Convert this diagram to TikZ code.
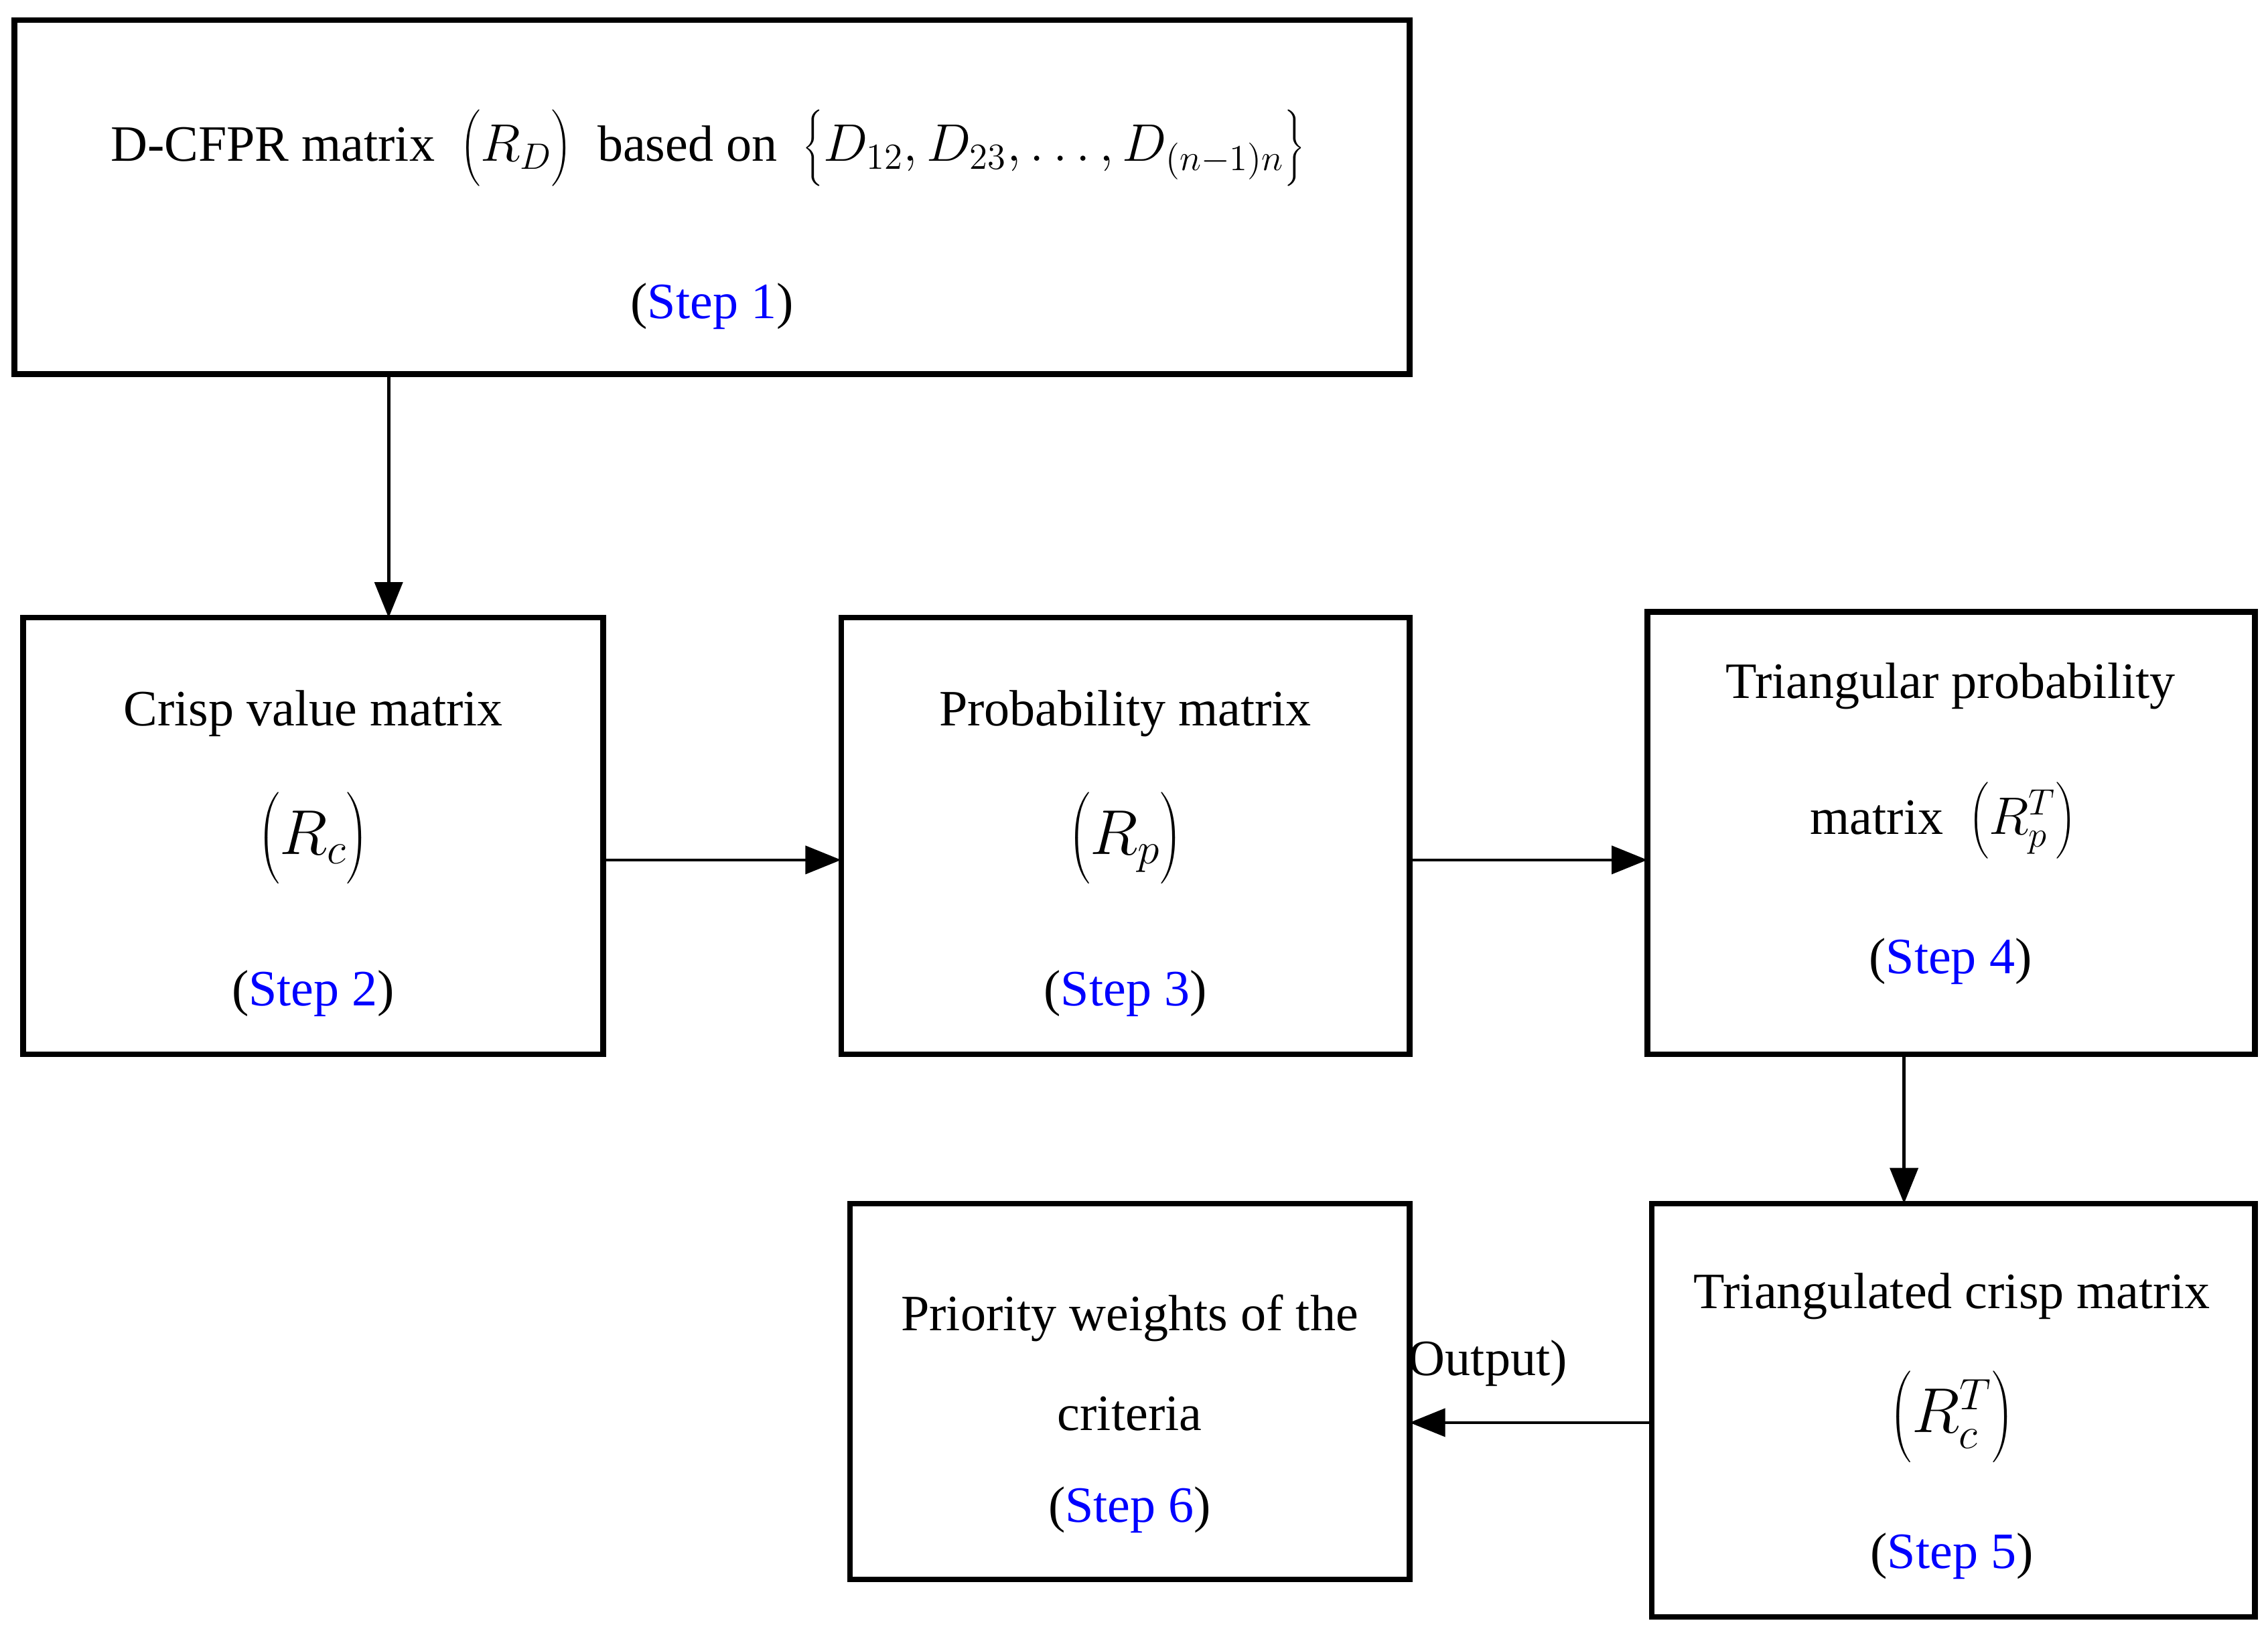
\documentclass[tikz,border=0pt]{standalone}
\usepackage{fontspec}
\setmainfont{Liberation Serif}
\usetikzlibrary{arrows.meta}
\definecolor{stepblue}{RGB}{0,0,255}
\newcommand{\bigp}[1]{\left(\rule[-0.45em]{0pt}{1.45em}#1\right)}
\begin{document}
\begin{tikzpicture}[x=0.02cm,y=-0.02cm,
  box/.style={draw,line width=2.2pt,fill=white},
  txt/.style={font=\fontsize{20}{24}\selectfont,inner sep=0pt},
  arr/.style={line width=1.2pt,-{Triangle[length=14pt,width=11pt]}}]
\useasboundingbox (0,0) rectangle (1564,1126);
\node[txt] (out) at (1026,940) {Output)};
\draw[box] (10,14) rectangle (972,258);
\draw[box] (16,426) rectangle (416,727);
\draw[box] (580,426) rectangle (972,727);
\draw[box] (1136,422) rectangle (1555,727);
\draw[box] (1139,830) rectangle (1555,1115);
\draw[box] (586,830) rectangle (972,1089);
\node[txt] (t1) at (488,102) {D-CFPR matrix\ \ $\bigp{R_D}$\ \ based on\ \ $\left\{\rule[-0.45em]{0pt}{1.45em}D_{12},D_{23},\ldots,D_{(n-1)n}\right\}$};
\node[txt] (s1) at (491,211) {(\textcolor{stepblue}{Step 1})};
\node[txt] (t2) at (216,492) {Crisp value matrix};
\node[txt] (m2) at (216,578) {\fontsize{24}{28}\selectfont$\bigp{R_c}$};
\node[txt] (s2) at (216,685) {(\textcolor{stepblue}{Step 2})};
\node[txt] (t3) at (776,492) {Probability matrix};
\node[txt] (m3) at (776,578) {\fontsize{24}{28}\selectfont$\bigp{R_p}$};
\node[txt] (s3) at (776,685) {(\textcolor{stepblue}{Step 3})};
\node[txt] (t4) at (1345,473) {Triangular probability};
\node[txt] (m4) at (1340,566) {matrix\ \ $\bigp{R_p^T}$};
\node[txt] (s4) at (1345,663) {(\textcolor{stepblue}{Step 4})};
\node[txt] (t5) at (1346,894) {Triangulated crisp matrix};
\node[txt] (m5) at (1346,977) {\fontsize{24}{28}\selectfont$\bigp{R_c^T}$};
\node[txt] (s5) at (1346,1073) {(\textcolor{stepblue}{Step 5})};
\node[txt] (t6) at (779,909) {Priority weights of the};
\node[txt] (u6) at (779,975) {criteria};
\node[txt] (s6) at (779,1041) {(\textcolor{stepblue}{Step 6})};
\coordinate (a1) at (268,258); \coordinate (a2) at (268,426);
\coordinate (a3) at (416,593); \coordinate (a4) at (580,593);
\coordinate (a5) at (972,593); \coordinate (a6) at (1136,593);
\coordinate (a7) at (1313,727); \coordinate (a8) at (1313,830);
\coordinate (a9) at (1139,981); \coordinate (a10) at (972,981);
\draw[arr] (a1) -- (a2);
\draw[arr] (a3) -- (a4);
\draw[arr] (a5) -- (a6);
\draw[arr] (a7) -- (a8);
\draw[arr] (a9) -- (a10);
\end{tikzpicture}
\end{document}
